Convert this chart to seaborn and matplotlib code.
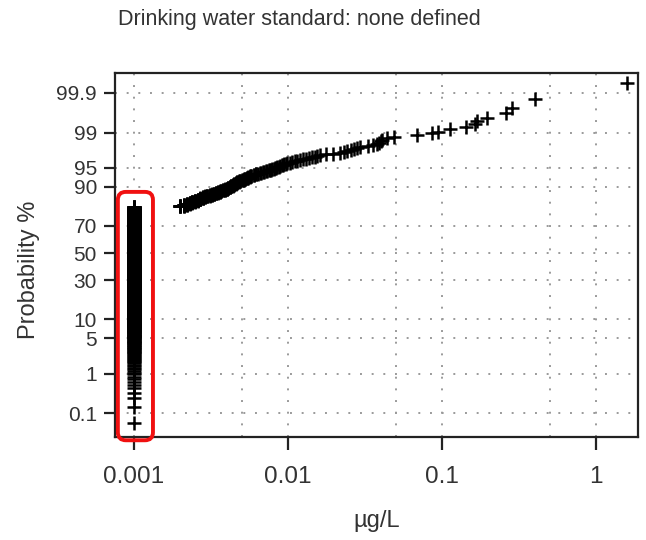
import math
import numpy as np
import pandas as pd
import matplotlib
matplotlib.use("Agg")
import matplotlib.pyplot as plt
import matplotlib.ticker as mticker
from matplotlib.patches import FancyBboxPatch
from matplotlib.transforms import IdentityTransform
import seaborn as sns

# ---------------- data ----------------
title_text = "Drinking water standard: none defined"
x_label = "\u00b5g/L"
y_label = "Probability %"

nondetect_value = 0.001          # reporting limit (all non-detects)
nondetect_count = 815

detected_values = [
    0.0020, 0.0020, 0.0020, 0.0020, 0.0021, 0.0021, 0.0021, 0.0021, 0.0021,
    0.0022, 0.0022, 0.0022, 0.0022, 0.0022, 0.0023, 0.0023, 0.0023, 0.0023,
    0.0023, 0.0024, 0.0024, 0.0024, 0.0024, 0.0024, 0.0025, 0.0025, 0.0025,
    0.0025, 0.0025, 0.0026, 0.0026, 0.0026, 0.0026, 0.0026, 0.0027, 0.0027,
    0.0027, 0.0027, 0.0027, 0.0027, 0.0028, 0.0028, 0.0028, 0.0028, 0.0028,
    0.0029, 0.0029, 0.0029, 0.0030, 0.0030, 0.0030, 0.0031, 0.0031, 0.0031,
    0.0032, 0.0032, 0.0032, 0.0033, 0.0033, 0.0033, 0.0034, 0.0034, 0.0034,
    0.0035, 0.0035, 0.0035, 0.0036, 0.0036, 0.0036, 0.0037, 0.0037, 0.0038,
    0.0038,
    0.0039, 0.0039, 0.0039, 0.0040, 0.0040, 0.0040, 0.0041, 0.0041, 0.0041,
    0.0042, 0.0042, 0.0042, 0.0043, 0.0043, 0.0043, 0.0044, 0.0044, 0.0044,
    0.0045, 0.0045, 0.0045, 0.0046, 0.0046, 0.0046, 0.0047, 0.0047, 0.0047,
    0.0048, 0.0048, 0.0049, 0.0049, 0.0050, 0.0051,
    0.0052, 0.0052, 0.0053, 0.0053, 0.0054, 0.0054, 0.0055, 0.0055, 0.0057,
    0.0057, 0.0058, 0.0058, 0.0060, 0.0060, 0.0062, 0.0062, 0.0064, 0.0066,
    0.0067, 0.0069, 0.0070, 0.0072, 0.0073, 0.0075, 0.0076, 0.0078, 0.0079,
    0.0081, 0.0082, 0.0084, 0.0085,
    0.0087, 0.0089, 0.0091, 0.0093, 0.0095, 0.0097, 0.0099,
    0.0103, 0.0107, 0.0111, 0.0115, 0.0120,
    0.0126, 0.0132, 0.0138, 0.0144, 0.0150, 0.0155, 0.0161,
    0.0178, 0.0197, 0.0218,
    0.0230, 0.0243, 0.0256, 0.0268, 0.0281, 0.0294,
    0.0330, 0.0355, 0.0379, 0.0390, 0.0400,
    0.041, 0.044, 0.049, 0.069, 0.086, 0.095, 0.113, 0.143, 0.165, 0.169,
    0.196, 0.26, 0.285, 0.40, 1.59,
]

x_ticks = [0.001, 0.01, 0.1, 1]
x_tick_labels = ["0.001", "0.01", "0.1", "1"]
x_minor_grid = [0.005, 0.05, 0.5]
y_ticks = [0.1, 1, 5, 10, 30, 50, 70, 90, 95, 99, 99.9]
y_tick_labels = ["0.1", "1", "5", "10", "30", "50", "70", "90", "95", "99", "99.9"]

# highlight box around the non-detect column (data coords)
box_x = (0.000787, 0.00133)
box_p = (0.0150, 88.1)

# ---------------- probability (probit) scale ----------------
_a = [-3.969683028665376e+01, 2.209460984245205e+02, -2.759285104469687e+02,
      1.383577518672690e+02, -3.066479806614716e+01, 2.506628277459239e+00]
_b = [-5.447609879822406e+01, 1.615858368580409e+02, -1.556989798598866e+02,
      6.680131188771972e+01, -1.328068155288572e+01]
_c = [-7.784894002430293e-03, -3.223964580411365e-01, -2.400758277161838e+00,
      -2.549732539343734e+00, 4.374664141464968e+00, 2.938163982698783e+00]
_d = [7.784695709041462e-03, 3.224671290700398e-01, 2.445134137142996e+00,
      3.754408661907416e+00]


def _ppf_scalar(p):
    plow = 0.02425
    if p < plow:
        q = math.sqrt(-2 * math.log(p))
        return (((((_c[0]*q+_c[1])*q+_c[2])*q+_c[3])*q+_c[4])*q+_c[5]) / \
               ((((_d[0]*q+_d[1])*q+_d[2])*q+_d[3])*q+1)
    if p > 1 - plow:
        q = math.sqrt(-2 * math.log(1 - p))
        return -(((((_c[0]*q+_c[1])*q+_c[2])*q+_c[3])*q+_c[4])*q+_c[5]) / \
                ((((_d[0]*q+_d[1])*q+_d[2])*q+_d[3])*q+1)
    q = p - 0.5
    r = q * q
    return (((((_a[0]*r+_a[1])*r+_a[2])*r+_a[3])*r+_a[4])*r+_a[5])*q / \
           (((((_b[0]*r+_b[1])*r+_b[2])*r+_b[3])*r+_b[4])*r+1)


def prob_forward(pct):
    arr = np.asarray(pct, dtype=float)
    p = np.clip(arr / 100.0, 1e-12, 1 - 1e-12)
    return np.vectorize(_ppf_scalar, otypes=[float])(p)


def prob_inverse(z):
    arr = np.asarray(z, dtype=float)
    return 100.0 * 0.5 * (1 + np.vectorize(math.erf, otypes=[float])(arr / math.sqrt(2)))


# ---------------- build the plotting table ----------------
values = np.sort(np.array([nondetect_value] * nondetect_count + detected_values))
n = len(values)
ranks = np.arange(1, n + 1)
df = pd.DataFrame({"value": values, "prob": (ranks - 0.5) / n * 100.0})

# ---------------- figure ----------------
sns.set_theme(style="white")
plt.rcParams["font.family"] = ["Liberation Sans", "DejaVu Sans"]

fig = plt.figure(figsize=(6.46, 5.40), dpi=100)
ax = fig.add_axes([115 / 646, 1 - 437 / 540, (638 - 115) / 646, (437 - 73) / 540])

ax.set_xscale("log")
ax.set_yscale("function", functions=(prob_forward, prob_inverse))

sns.scatterplot(data=df, x="value", y="prob", marker="+", s=100, color="black",
                linewidth=1.8, ax=ax, legend=False, zorder=3)

ax.set_xlim(0.000754, 1.875)
ax.set_ylim(0.0191, 99.9745)

ax.xaxis.set_major_locator(mticker.FixedLocator(x_ticks))
ax.xaxis.set_major_formatter(mticker.FixedFormatter(x_tick_labels))
ax.xaxis.set_minor_locator(mticker.FixedLocator(x_minor_grid))
ax.xaxis.set_minor_formatter(mticker.NullFormatter())
ax.yaxis.set_major_locator(mticker.FixedLocator(y_ticks))
ax.yaxis.set_major_formatter(mticker.FixedFormatter(y_tick_labels))
ax.yaxis.set_minor_locator(mticker.NullLocator())

ax.tick_params(axis="x", which="major", direction="out", length=9, width=1.6,
               color="#222222", labelsize=17.5, labelcolor="#333333", pad=12,
               bottom=True)
ax.tick_params(axis="x", which="minor", length=0, bottom=False)
ax.tick_params(axis="y", which="major", direction="out", length=8, width=1.6,
               color="#222222", labelsize=15, labelcolor="#333333", pad=5,
               left=True)

grid_kw = dict(color="#9a9a9a", linestyle=(0, (1, 5)), linewidth=1.4)
ax.grid(True, axis="x", which="both", **grid_kw)
ax.grid(True, axis="y", which="major", **grid_kw)
ax.set_axisbelow(True)

for sp in ax.spines.values():
    sp.set_visible(True)
    sp.set_color("#222222")
    sp.set_linewidth(1.6)

ax.set_xlabel(x_label, fontsize=17, color="#333333", labelpad=16)
ax.set_ylabel(y_label, fontsize=17, color="#333333")
ax.yaxis.set_label_coords(-0.143, 0.46)

fig.text(118 / 646, 1 - 19 / 540, title_text, ha="left", va="center",
         fontsize=15.5, color="#333333")

# red rounded highlight box, positioned through the axes' own transforms
(x0, y0) = ax.transData.transform((box_x[0], box_p[0]))
(x1, y1) = ax.transData.transform((box_x[1], box_p[1]))
box = FancyBboxPatch((x0, y0), x1 - x0, y1 - y0,
                     boxstyle="round,pad=0,rounding_size=8",
                     transform=IdentityTransform(), fill=False,
                     edgecolor="#f01010", linewidth=2.8, zorder=10, clip_on=False)
fig.patches.append(box)
box.set_figure(fig)

fig.savefig("out.png", dpi=100)
